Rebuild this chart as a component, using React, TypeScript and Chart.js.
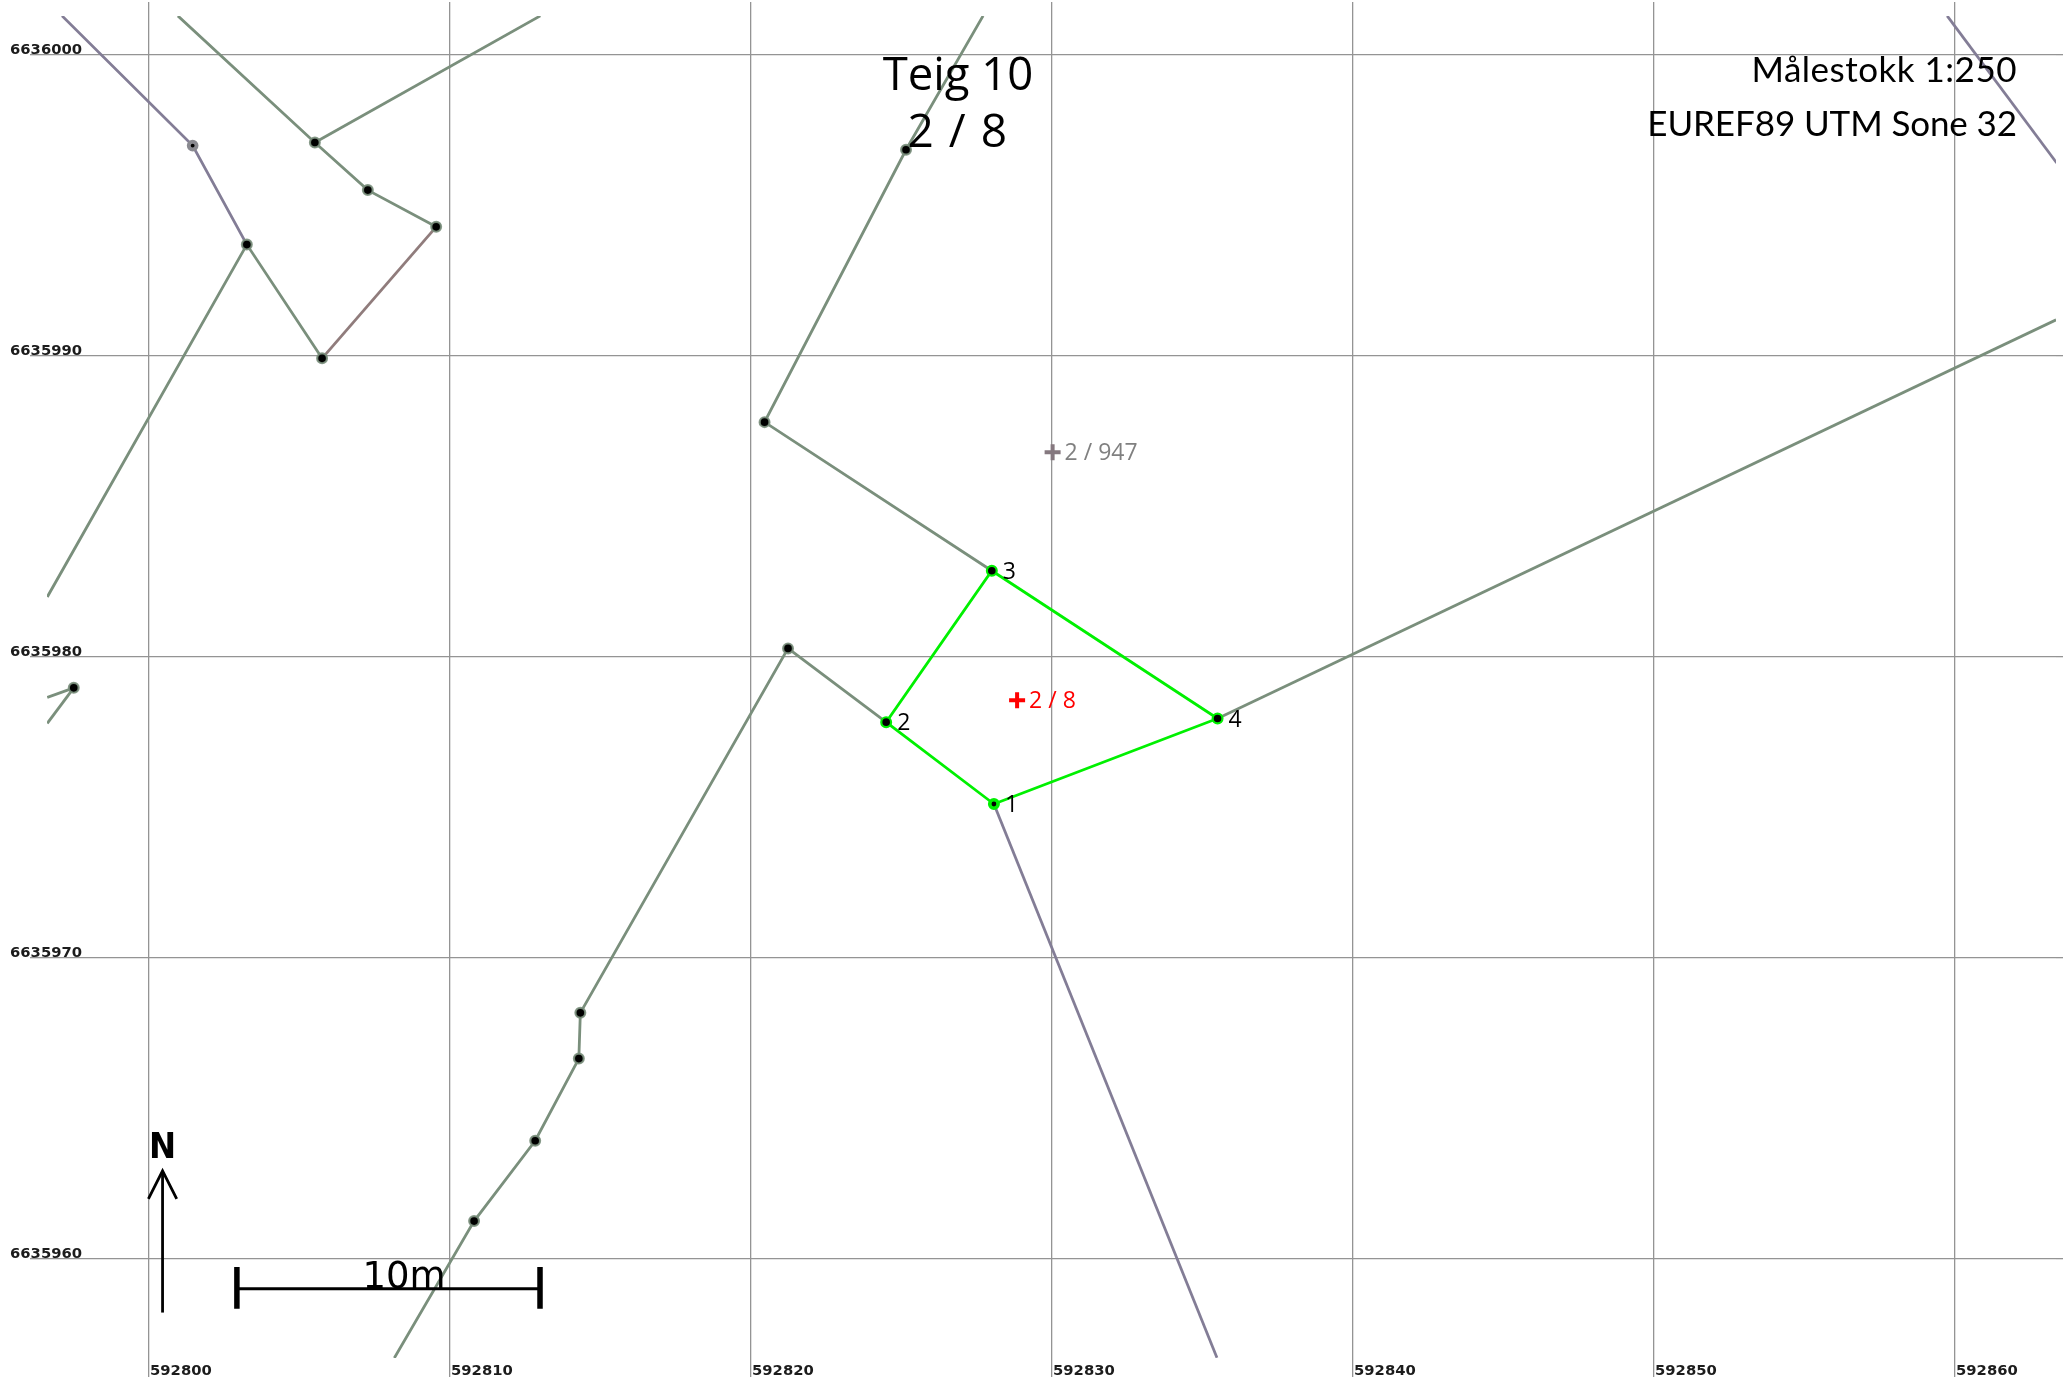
import React, { useEffect, useRef } from "react";
import { Chart, registerables } from "chart.js";

Chart.register(...registerables);

type P = { x: number; y: number };
const p = (x: number, y: number): P => ({ x, y });

const xTickValues = [592800, 592810, 592820, 592830, 592840, 592850, 592860];
const yTickValues = [6636000, 6635990, 6635980, 6635970, 6635960];

// Parcel boundary (points 1-2-3-4-1)
const parcelBoundary = [p(592828.07, 6635975.11), p(592824.49, 6635977.83), p(592828.0, 6635982.86), p(592835.5, 6635977.95), p(592828.07, 6635975.11)];
const parcelNumbers = ["1", "2", "3", "4"];

// Neighbour boundaries, green-grey
const greenLines: P[][] = [
  [p(592796.62, 6635981.99), p(592803.25, 6635993.7), p(592805.75, 6635989.92)],
  [p(592809.54, 6635994.29), p(592807.27, 6635995.51), p(592805.51, 6635997.09), p(592800.96, 6636001.3)],
  [p(592805.51, 6635997.09), p(592813.0, 6636001.3)],
  [p(592828.0, 6635982.86), p(592820.45, 6635987.8), p(592825.15, 6635996.85), p(592827.71, 6636001.3)],
  [p(592824.49, 6635977.83), p(592821.23, 6635980.28), p(592814.33, 6635968.17), p(592814.28, 6635966.65), p(592812.83, 6635963.92), p(592810.8, 6635961.25), p(592808.15, 6635956.7)],
  [p(592835.5, 6635977.95), p(592863.36, 6635991.2)],
  [p(592797.5, 6635978.97), p(592796.62, 6635978.65)],
  [p(592797.5, 6635978.97), p(592796.62, 6635977.79)],
];
// Neighbour boundaries, purple-grey
const purpleLines: P[][] = [
  [p(592797.11, 6636001.3), p(592801.45, 6635996.99), p(592803.25, 6635993.7)],
  [p(592828.07, 6635975.11), p(592835.48, 6635956.71)],
  [p(592859.74, 6636001.3), p(592863.38, 6635996.41)],
];
// Boundary, brown-grey
const brownLines: P[][] = [[p(592805.75, 6635989.92), p(592809.54, 6635994.29)]];

// Vertex points
const greenVertices = [
  p(592803.25, 6635993.7), p(592805.75, 6635989.92), p(592809.54, 6635994.29), p(592807.27, 6635995.51), p(592805.51, 6635997.09),
  p(592825.15, 6635996.85), p(592820.45, 6635987.8), p(592821.23, 6635980.28), p(592814.33, 6635968.17), p(592814.28, 6635966.65),
  p(592812.83, 6635963.92), p(592810.8, 6635961.25), p(592797.5, 6635978.97),
];
const greyVertices = [p(592801.45, 6635996.99)];
const parcelVertices = [p(592824.49, 6635977.83), p(592828.0, 6635982.86), p(592835.5, 6635977.95)];
const parcelVertexSmall = [p(592828.07, 6635975.11)];

// Parcel labels
const crossGrey = [p(592830.02, 6635986.8)];
const crossRed = [p(592828.84, 6635978.56)];
const crossGreyLabel = "2 / 947";
const crossRedLabel = "2 / 8";

// Scale bar and north arrow
const scaleBar = [p(592802.92, 6635959.0), p(592812.99, 6635959.0)];
const scaleEndA = [p(592802.92, 6635959.72), p(592802.92, 6635958.34)];
const scaleEndB = [p(592812.99, 6635959.72), p(592812.99, 6635958.34)];
const arrowShaft = [p(592800.45, 6635958.21), p(592800.45, 6635962.92)];
const arrowHead = [p(592799.98, 6635961.99), p(592800.45, 6635962.92), p(592800.92, 6635961.99)];

const GREEN = "#7a8f7c";
const PURPLE = "#837d96";
const BROWN = "#907c7c";
const BRIGHT = "#00f000";
const GRID = "#949494";

const lineSet = (data: P[], color: string, width = 2.8) => ({
  type: "line" as const, data, borderColor: color, borderWidth: width, pointRadius: 0, fill: false, tension: 0, clip: 0,
});
const pointSet = (data: P[], fill: string, border: string, radius: number, bw: number) => ({
  type: "scatter" as const, data, showLine: false, pointRadius: radius, pointBackgroundColor: fill, pointBorderColor: border, pointBorderWidth: bw, clip: false,
});
const crossSet = (data: P[], color: string) => ({
  type: "scatter" as const, data, showLine: false, pointStyle: "cross", pointRadius: 8, pointBorderColor: color, pointBackgroundColor: color, pointBorderWidth: 4, clip: false,
});

const overlay = {
  id: "overlay",
  afterDraw(chart: any) {
    const { ctx, scales } = chart;
    const sx = scales.x, sy = scales.y;
    const text = (s: string, x: number, y: number, font: string, color = "#000", align: CanvasTextAlign = "left", spacing = "0px") => {
      ctx.font = font; ctx.fillStyle = color; ctx.textAlign = align; ctx.textBaseline = "alphabetic"; ctx.letterSpacing = spacing; ctx.fillText(s, x, y);
    };
    ctx.save();
    const small = '23px "Open Sans"';
    parcelBoundary.slice(0, 4).forEach((v, i) => {
      text(parcelNumbers[i], sx.getPixelForValue(v.x) + 11, sy.getPixelForValue(v.y) + 8, small);
    });
    text(crossGreyLabel, sx.getPixelForValue(crossGrey[0].x) + 12, sy.getPixelForValue(crossGrey[0].y) + 8, small, "#808080");
    text(crossRedLabel, sx.getPixelForValue(crossRed[0].x) + 12, sy.getPixelForValue(crossRed[0].y) + 8, small, "#ff0000");
    text("Teig 10", 958, 90, '45.5px "Open Sans"', "#000", "center");
    text("2 / 8", 958, 147, '46px "Open Sans"', "#000", "center", "1.5px");
    text("Målestokk 1:250", 2017, 82, '35px "Lato"', "#000", "right", "0.5px");
    text("EUREF89 UTM Sone 32", 2017, 136, '35px "Lato"', "#000", "right", "-0.1px");
    text("10m", 404, 1288, '37px "DejaVu Sans"', "#000", "center");
    text("N", 162.5, 1158, 'bold 36px "DejaVu Sans Condensed"', "#000", "center");
    ctx.restore();
  },
};

const tickFont = { family: '"DejaVu Sans"', size: 14.8, weight: "bold" as const };

export default function App() {
  const ref = useRef<HTMLCanvasElement>(null);
  useEffect(() => {
    document.body.style.margin = "0";
    const setX = (axis: any) => { axis.ticks = xTickValues.map((value) => ({ value })); };
    const setY = (axis: any) => { axis.ticks = yTickValues.map((value) => ({ value })); };
    const noPad = (s: any) => { s.paddingLeft = 0; s.paddingRight = 0; s.paddingTop = 0; s.paddingBottom = 0; };
    const xRange = { type: "linear" as const, min: 592796.611, max: 592863.355, afterBuildTicks: setX };
    const yRange = { type: "linear" as const, min: 6635956.7, max: 6636001.296, afterBuildTicks: setY };
    const gridBase = { color: GRID, tickColor: GRID, lineWidth: 1.3, tickWidth: 1.3 };
    // Chart.js paints the first dataset last, so marks that sit on top come first.
    const chart = new Chart(ref.current!, {
      data: {
        datasets: [
          lineSet(scaleBar, "#000", 3),
          lineSet(scaleEndA, "#000", 5.5),
          lineSet(scaleEndB, "#000", 5.5),
          lineSet(arrowShaft, "#000", 2.8),
          lineSet(arrowHead, "#000", 2.8),
          crossSet(crossGrey, "#85787f"),
          crossSet(crossRed, "#ff0000"),
          pointSet(greenVertices, "#000", "rgba(122,143,124,0.9)", 4.9, 2.2),
          pointSet(greyVertices, "#000", "#8a8a90", 3.9, 3.9),
          pointSet(parcelVertices, "#000", BRIGHT, 4.9, 2.2),
          pointSet(parcelVertexSmall, "#000", BRIGHT, 4.2, 3.6),
          lineSet(parcelBoundary, BRIGHT, 2.8),
          ...brownLines.map((d) => lineSet(d, BROWN)),
          ...purpleLines.map((d) => lineSet(d, PURPLE)),
          ...greenLines.map((d) => lineSet(d, GREEN)),
        ] as any,
      },
      options: {
        animation: false,
        responsive: false,
        devicePixelRatio: 1,
        layout: { padding: 0, autoPadding: false },
        plugins: { legend: { display: false }, title: { display: false }, tooltip: { enabled: false } },
        events: [],
        scales: {
          x: {
            ...xRange, position: "bottom",
            afterFit: (s: any) => { s.height = 24; noPad(s); },
            grid: { ...gridBase, tickLength: 19 }, border: { display: false },
            ticks: { font: tickFont, color: "#1c1c1c", align: "start", padding: -15, labelOffset: 1, maxRotation: 0, autoSkip: false, callback: (v: any) => String(v) },
          },
          xTop: {
            ...xRange, position: "top",
            afterFit: (s: any) => { s.height = 16; noPad(s); },
            grid: { ...gridBase, tickLength: 14, drawOnChartArea: false }, border: { display: false },
            ticks: { display: false },
          },
          y: {
            ...yRange, position: "left",
            afterFit: (s: any) => { s.width = 47; noPad(s); },
            grid: { ...gridBase, tickLength: 17 }, border: { display: false },
            ticks: { font: tickFont, color: "#1c1c1c", mirror: true, padding: -37, labelOffset: -5, autoSkip: false, callback: (v: any) => String(v) },
          },
          yRight: {
            ...yRange, position: "right",
            afterFit: (s: any) => { s.width = 7; noPad(s); },
            grid: { ...gridBase, tickLength: 7, drawOnChartArea: false }, border: { display: false },
            ticks: { display: false },
          },
        } as any,
      },
      plugins: [overlay],
    } as any);
    return () => chart.destroy();
  }, []);
  return <canvas ref={ref} width={2063} height={1382} style={{ display: "block", width: 2063, height: 1382 }} />;
}
